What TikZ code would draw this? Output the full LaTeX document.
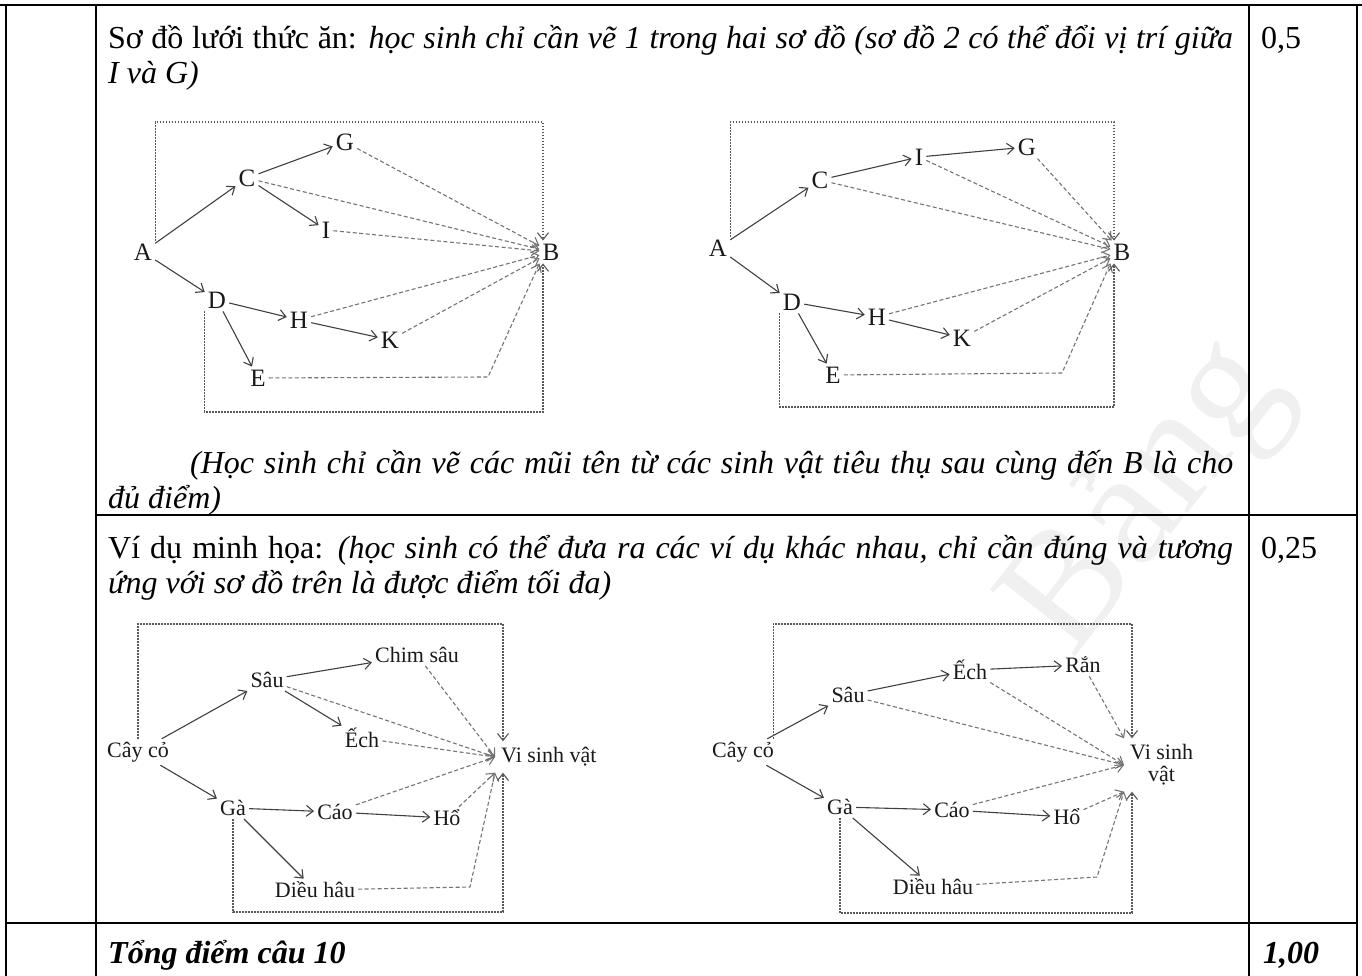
\documentclass[tikz,border=0pt]{standalone}
\usepackage{fontspec}
\setmainfont{Liberation Serif}
\usetikzlibrary{arrows.meta}

\begin{document}
\begin{tikzpicture}[x=1pt,y=-1pt,
 rule/.style={line width=2.2pt},
 cell/.style={inner sep=0pt,anchor=base west,text width=1125pt,align=justify,font=\fontsize{32}{35}\selectfont},
 score/.style={inner sep=0pt,anchor=base west,font=\fontsize{32}{35}\selectfont},
 lbl/.style={inner sep=3pt,font=\fontsize{25}{25}\selectfont,text=black!90},
 vn/.style={inner sep=3pt,font=\fontsize{22}{22}\selectfont,text=black!90},
 feed/.style={draw=black!75,line width=1.1pt,-{Straight Barb[length=7pt,width=11pt]}},
 dec/.style={draw=black!55,line width=1.1pt,dash pattern=on 4pt off 2.5pt,-{Straight Barb[length=7pt,width=11pt]}},
 wrap/.style={draw=black!65,line width=1.1pt,dash pattern=on 1.6pt off 1.4pt,-{Straight Barb[length=7pt,width=11pt]}}]
\useasboundingbox (0,0) rectangle (1362,976);
\node[rotate=52,text=black!6,font=\fontsize{165}{165}\selectfont] (wm) at (1150,500) {Bảng};
% table
\draw[rule] (0,5)--(1362,5);
\draw[line width=2pt] (96,515)--(1357,515);
\draw[rule] (6,923)--(1357,923);
\draw[line width=2pt] (6,4)--(6,976) (96,4)--(96,976) (1249,4)--(1249,976) (1357,4)--(1357,976);
\node[cell] (head1) at (108,49) {Sơ đồ lưới thức ăn: \textit{học sinh chỉ cần vẽ 1 trong hai sơ đồ (sơ đồ 2 có thể đổi vị trí giữa\linebreak I và G)}};
\node[cell] (note1) at (108,473) {\hspace*{82pt}\textit{(Học sinh chỉ cần vẽ các mũi tên từ các sinh vật tiêu thụ sau cùng đến B là cho\linebreak đủ điểm)}};
\node[cell] (head2) at (108,558) {Ví dụ minh họa: \textit{(học sinh có thể đưa ra các ví dụ khác nhau, chỉ cần đúng và tương\linebreak ứng với sơ đồ trên là được điểm tối đa)}};
\node[cell] (total) at (108,963) {\textbf{\textit{Tổng điểm câu 10}}};
\node[score] (p1) at (1261,49) {0,5};
\node[score] (p2) at (1261,558) {0,25};
\node[score] (p3) at (1263,963) {\textbf{\textit{1,00}}};
% so do 1
\node[lbl] (a1) at (143,252) {A};
\node[lbl] (c1) at (247,178) {C};
\node[lbl] (g1) at (345,142) {G};
\node[lbl] (i1) at (326,230) {I};
\node[lbl] (b1) at (551,252) {B};
\node[lbl] (d1) at (217,300) {D};
\node[lbl] (h1) at (299,320) {H};
\node[lbl] (k1) at (390,340) {K};
\node[lbl] (e1) at (258,378) {E};
\coordinate (t1) at (543,122);
\coordinate (s1) at (543,412);
\coordinate (m1) at (488,377);
\draw[feed] (a1)--(c1);
\draw[feed] (a1)--(d1);
\draw[feed] (c1)--(g1);
\draw[feed] (c1)--(i1);
\draw[feed] (d1)--(h1);
\draw[feed] (d1)--(e1);
\draw[feed] (h1)--(k1);
\draw[dec] (g1)--(b1);
\draw[dec] (c1)--(b1);
\draw[dec] (i1)--(b1);
\draw[dec] (h1)--(b1);
\draw[dec] (k1)--(b1);
\draw[dec] (e1)--(m1)--(b1.south west);
\draw[wrap] (a1.north east) |- (t1)--(t1|-b1.north);
\draw[wrap] (d1.south west) |- (s1)--(s1|-b1.south);
% so do 2
\node[lbl] (a2) at (718,248) {A};
\node[lbl] (c2) at (820,180) {C};
\node[lbl] (i2) at (919,157) {I};
\node[lbl] (g2) at (1027,147) {G};
\node[lbl] (b2) at (1122,252) {B};
\node[lbl] (d2) at (792,302) {D};
\node[lbl] (h2) at (877,317) {H};
\node[lbl] (k2) at (962,338) {K};
\node[lbl] (e2) at (833,375) {E};
\coordinate (t2) at (1114,122);
\coordinate (s2) at (1114,407);
\coordinate (m2) at (1062,373);
\draw[feed] (a2)--(c2);
\draw[feed] (a2)--(d2);
\draw[feed] (c2)--(i2);
\draw[feed] (i2)--(g2);
\draw[feed] (d2)--(h2);
\draw[feed] (d2)--(e2);
\draw[feed] (h2)--(k2);
\draw[dec] (g2)--(b2);
\draw[dec] (i2)--(b2);
\draw[dec] (c2)--(b2);
\draw[dec] (h2)--(b2);
\draw[dec] (k2)--(b2);
\draw[dec] (e2)--(m2)--(b2.south west);
\draw[wrap] (a2.north east) |- (t2)--(t2|-b2.north);
\draw[wrap] (d2.south west) |- (s2)--(s2|-b2.south);
% vi du 1
\node[vn] (cay3) at (138,752) {Cây cỏ};
\node[vn] (sau3) at (267,680) {Sâu};
\node[vn] (chim3) at (417,655) {Chim sâu};
\node[vn] (ech3) at (362,738) {Ếch};
\node[vn,anchor=west,inner sep=6pt] (vsv3) at (495,757) {Vi sinh vật};
\node[vn] (ga3) at (233,808) {Gà};
\node[vn] (cao3) at (335,812) {Cáo};
\node[vn] (ho3) at (447,818) {Hổ};
\node[vn] (dieu3) at (315,890) {Diều hâu};
\coordinate (t3) at (503,624);
\coordinate (s3) at (503,912);
\coordinate (m3) at (470,887);
\draw[feed] (cay3)--(sau3);
\draw[feed] (cay3)--(ga3);
\draw[feed] (sau3)--(chim3);
\draw[feed] (sau3)--(ech3);
\draw[feed] (ga3)--(cao3);
\draw[feed] (cao3)--(ho3);
\draw[feed] (ga3)--(dieu3);
\draw[dec] (chim3)--(vsv3.west);
\draw[dec] (sau3)--(vsv3.west);
\draw[dec] (ech3)--(vsv3.west);
\draw[dec] (cao3)--(vsv3.west);
\draw[dec] (ho3)--(vsv3.south west);
\draw[dec] (dieu3)--(m3)--(vsv3.south west);
\draw[wrap] (cay3.north) |- (t3)--(t3|-vsv3.north);
\draw[wrap] (ga3.south) |- (s3)--(s3|-vsv3.south);
% vi du 2
\node[vn] (cay4) at (743,752) {Cây cỏ};
\node[vn] (sau4) at (848,695) {Sâu};
\node[vn] (ech4) at (970,670) {Ếch};
\node[vn] (ran4) at (1083,665) {Rắn};
\node[vn,anchor=west,inner sep=6pt,align=center] (vsv4) at (1124,765) {Vi sinh\\vật};
\node[vn] (ga4) at (840,807) {Gà};
\node[vn] (cao4) at (952,810) {Cáo};
\node[vn] (ho4) at (1067,817) {Hổ};
\node[vn] (dieu4) at (933,887) {Diều hâu};
\coordinate (t4) at (1132,624);
\coordinate (s4) at (1132,913);
\coordinate (m4) at (1097,877);
\draw[feed] (cay4)--(sau4);
\draw[feed] (cay4)--(ga4);
\draw[feed] (sau4)--(ech4);
\draw[feed] (ech4)--(ran4);
\draw[feed] (ga4)--(cao4);
\draw[feed] (cao4)--(ho4);
\draw[feed] (ga4)--(dieu4);
\draw[dec] (ran4)--(vsv4.north west);
\draw[dec] (ech4)--(vsv4.west);
\draw[dec] (sau4)--(vsv4.west);
\draw[dec] (cao4)--(vsv4.west);
\draw[dec] (ho4)--(vsv4.south west);
\draw[dec] (dieu4)--(m4)--(vsv4.south west);
\draw[wrap] ([xshift=-4pt]cay4.north east) |- (t4)--(t4|-vsv4.north);
\draw[wrap] (ga4.south) |- (s4)--(s4|-vsv4.south);
\end{tikzpicture}
\end{document}
